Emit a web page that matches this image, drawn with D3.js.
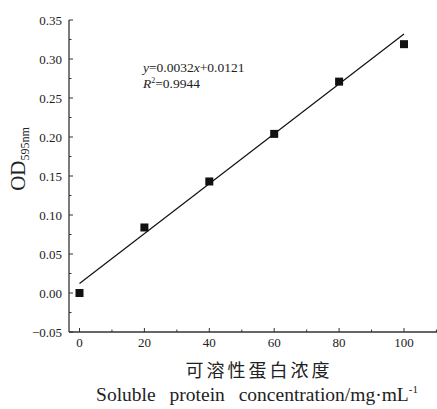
<!DOCTYPE html>
<html>
<head>
<meta charset="utf-8">
<script src="https://cdn.jsdelivr.net/npm/d3@7"></script>
<style>
  body { margin: 0; background: #fff; }
</style>
</head>
<body>
<script>
// data
let concentration = [0, 20, 40, 60, 80, 100];
let od = [0.000, 0.084, 0.143, 0.204, 0.271, 0.319];
let fitSlope = 0.0032, fitIntercept = 0.0121;
let xTicks = [0, 20, 40, 60, 80, 100];
let yTicks = [-0.05, 0.00, 0.05, 0.10, 0.15, 0.20, 0.25, 0.30, 0.35];

const SERIF = "'Liberation Serif', 'Times New Roman', 'DejaVu Serif', serif";

init();

function init() {
  let width = 437, height = 409;

  let svg = d3.select("body").append("svg")
              .attr("width", width)
              .attr("height", height)
              .style("font-family", SERIF);

  let x = d3.scaleLinear().domain([0, 100]).range([79.5, 404]);
  let y = d3.scaleLinear().domain([-0.05, 0.35]).range([332, 20]);

  let g = svg.append("g");

  // y axis (ticks inward)
  let yAxis = g.append("g").attr("transform", "translate(69,0)");
  yAxis.append("line").attr("y1", y(-0.05)).attr("y2", y(0.35)).attr("stroke", "#333").attr("stroke-width", 1.3);
  yAxis.selectAll(".ymaj").data(yTicks).enter().append("line")
       .attr("x1", 0).attr("x2", 4)
       .attr("y1", d => y(d)).attr("y2", d => y(d))
       .attr("stroke", "#333").attr("stroke-width", 1);
  yAxis.selectAll(".ymin").data(yTicks.slice(0, -1).map(d => d + 0.025)).enter().append("line")
       .attr("x1", 0).attr("x2", 2.5)
       .attr("y1", d => y(d)).attr("y2", d => y(d))
       .attr("stroke", "#333").attr("stroke-width", 1);
  yAxis.selectAll(".ylab").data(yTicks).enter().append("text")
       .attr("x", -7).attr("y", d => y(d) + 4.5)
       .attr("text-anchor", "end")
       .attr("font-family", SERIF)
       .attr("font-size", 13)
       .attr("fill", "#222")
       .text(d => d3.format(".2f")(d));

  // x axis (ticks inward)
  let xAxis = g.append("g").attr("transform", "translate(0,332)");
  xAxis.append("line").attr("x1", 69).attr("x2", 437).attr("stroke", "#333").attr("stroke-width", 1.3);
  xAxis.selectAll(".xmaj").data(xTicks).enter().append("line")
       .attr("x1", d => x(d)).attr("x2", d => x(d))
       .attr("y1", 0).attr("y2", -4)
       .attr("stroke", "#333").attr("stroke-width", 1);
  xAxis.selectAll(".xmin").data(xTicks.map(d => d + 10)).enter().append("line")
       .attr("x1", d => x(d)).attr("x2", d => x(d))
       .attr("y1", 0).attr("y2", -2.5)
       .attr("stroke", "#333").attr("stroke-width", 1);
  xAxis.selectAll(".xlab").data(xTicks).enter().append("text")
       .attr("x", d => x(d)).attr("y", 15)
       .attr("text-anchor", "middle")
       .attr("font-family", SERIF)
       .attr("font-size", 13)
       .attr("fill", "#222")
       .text(d => d);

  // fit line
  g.append("line")
   .attr("x1", x(0)).attr("y1", y(fitIntercept))
   .attr("x2", x(100)).attr("y2", y(fitSlope * 100 + fitIntercept))
   .attr("stroke", "#111").attr("stroke-width", 1.2);

  // points
  let s = 8;
  g.selectAll(".pt").data(concentration).enter().append("rect")
   .attr("x", (d, i) => x(d) - s / 2)
   .attr("y", (d, i) => y(od[i]) - s / 2)
   .attr("width", s).attr("height", s)
   .attr("fill", "#111");

  // equation
  let eq = g.append("text").attr("x", 143).attr("y", 72)
            .attr("font-family", SERIF).attr("font-size", 13.5).attr("fill", "#222");
  eq.append("tspan").attr("font-style", "italic").text("y");
  eq.append("tspan").text("=0.0032");
  eq.append("tspan").attr("font-style", "italic").text("x");
  eq.append("tspan").text("+0.0121");

  let r2 = g.append("text").attr("x", 143).attr("y", 88)
            .attr("font-family", SERIF).attr("font-size", 13.5).attr("fill", "#222");
  r2.append("tspan").attr("font-style", "italic").text("R");
  r2.append("tspan").attr("font-size", 8).attr("dy", -5).text("2");
  r2.append("tspan").attr("dy", 5).text("=0.9944");

  // y title
  let yt = svg.append("text")
              .attr("transform", "translate(25,159) rotate(-90)")
              .attr("text-anchor", "middle")
              .attr("font-family", SERIF)
              .attr("font-size", 21)
              .attr("fill", "#222");
  yt.append("tspan").text("OD");
  yt.append("tspan").attr("font-size", 12).attr("dy", 4).text("595nm");

  // x titles
  svg.append("text")
     .attr("x", 259).attr("y", 377)
     .attr("text-anchor", "middle")
     .attr("font-size", 18)
     .attr("letter-spacing", 3)
     .attr("fill", "#222")
     .attr("font-family", "'Noto Sans CJK SC', serif")
     .text("可溶性蛋白浓度");

  let xt = svg.append("text")
              .attr("x", 257).attr("y", 401)
              .attr("text-anchor", "middle")
              .attr("font-family", SERIF)
              .attr("font-size", 19.5)
              .attr("word-spacing", 9)
              .attr("fill", "#222");
  xt.append("tspan").text("Soluble protein concentration/mg·mL");
  xt.append("tspan").attr("font-size", 11).attr("dy", -8).text("-1");
}
</script>
</body>
</html>
